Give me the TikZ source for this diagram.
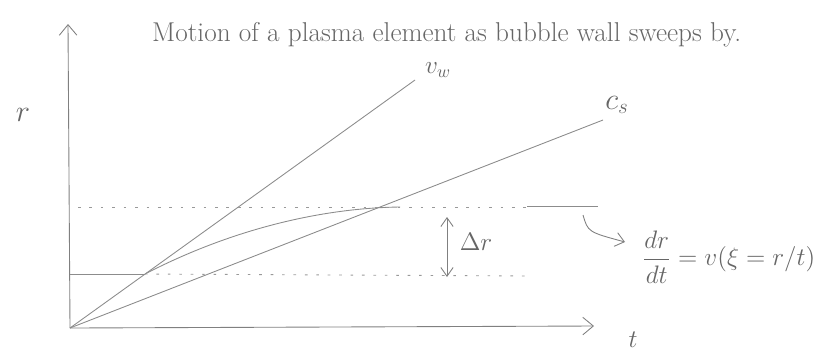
\documentclass[tikz,border=0pt]{standalone}
\usepackage{amsmath,amssymb}
\usepackage{tikz}
\usetikzlibrary{arrows.meta}

\begin{document}
\begin{tikzpicture}[x=0.02cm, y=-0.02cm,
    ax/.style={draw=black!50, line width=0.5pt, -{Straight Barb[length=6pt,width=10pt]}},
    ln/.style={draw=black!45, line width=0.5pt},
    dots/.style={draw=black!40, line width=0.5pt, dash pattern=on 1.5pt off 5pt},
    txt/.style={text=black!60, font=\Large},
    arr/.style={draw=black!50, line width=0.5pt, -{Straight Barb[length=5pt,width=8pt]}},
    darr/.style={draw=black!50, line width=0.5pt, {Straight Barb[length=5pt,width=7pt]}-{Straight Barb[length=5pt,width=7pt]}}
]
\useasboundingbox (0,0) rectangle (824,353);
\coordinate (o) at (70,328);
\coordinate (ytop) at (68,24);
\coordinate (xend) at (594,326);
\draw[ax] (o) -- (ytop);
\draw[ax] (o) -- (xend);
\node[txt, font=\LARGE] (rlab) at (23,115) {$r$};
\node[txt] (tlab) at (633,340) {$t$};
\node[txt, font=\fontsize{15.5}{18}\selectfont, anchor=west] (title) at (146,35) {Motion of a plasma element as bubble wall sweeps by.};

\coordinate (vwend) at (415,80);
\coordinate (csend) at (603,120);
\draw[ln] (o) -- (vwend);
\draw[ln] (o) -- (csend);
\node[txt] (vw) at (438,70) {$v_w$};
\node[txt, font=\LARGE] (cs) at (617,105) {$c_s$};

\coordinate (r0) at (70,274);
\coordinate (hit) at (145,274);
\coordinate (top) at (400,207);
\draw[ln] (r0) -- (hit);
\draw[ln] (hit) .. controls (230,230) and (320,208) .. (top);
\draw[dots] (78,207) -- (527,207);
\coordinate (flat0) at (527,206);
\coordinate (flat1) at (598,206);
\draw[ln] (flat0) -- (flat1);
\draw[dots] (hit) -- (533,276);

\coordinate (dr0) at (447,217);
\coordinate (dr1) at (447,277);
\draw[darr] (dr0) -- (dr1);
\node[txt] (drlab) at (476,242) {$\Delta r$};

\coordinate (c0) at (583,215);
\coordinate (c1) at (625,242);
\draw[arr] (c0) .. controls (588,232) .. (c1);
\node[txt, anchor=west] (eq) at (636,257) {$\dfrac{dr}{dt} = v(\xi = r/t)$};
\end{tikzpicture}
\end{document}
